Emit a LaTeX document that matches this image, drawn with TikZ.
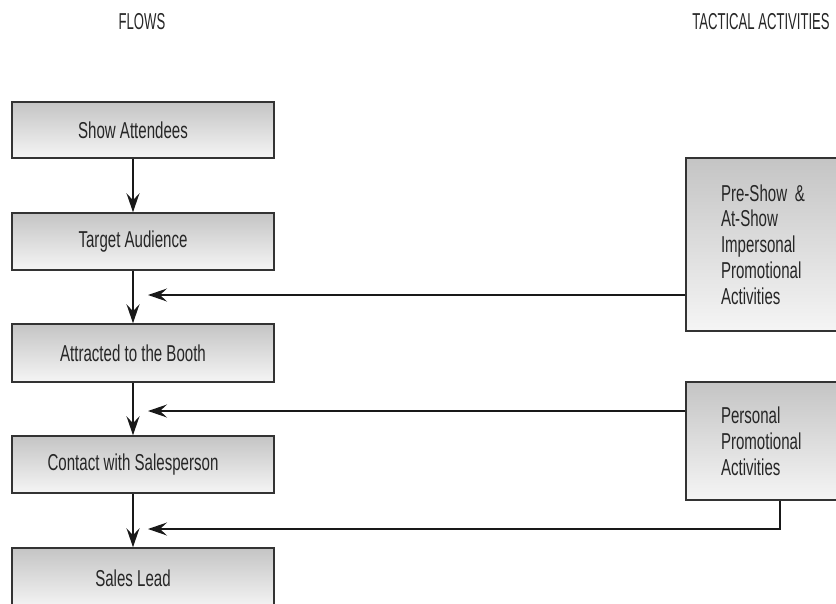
\documentclass[tikz,border=0pt]{standalone}
\usepackage{fontspec}
\setmainfont{Liberation Sans}[FakeStretch=0.655]
\newfontfamily\headfont{Liberation Sans}[FakeStretch=0.57]
\usetikzlibrary{arrows.meta}
\tikzset{
  flowbox/.style={draw=black!80, line width=1.5pt, top color=black!23, bottom color=black!4,
    minimum width=262pt, inner sep=0pt, text=black!85, font=\fontsize{23}{25.5}\selectfont},
  tacbox/.style={draw=black!80, line width=1.5pt, top color=black!23, bottom color=black!4,
    inner xsep=35pt, inner ysep=0pt, text width=90pt, align=left, text=black!85,
    font=\fontsize{23}{25.8}\selectfont},
  head/.style={text=black!85, font=\headfont\fontsize{23}{25}\selectfont},
  arr/.style={draw=black!90, line width=1.4pt, -{Stealth[length=19pt,width=13pt,inset=7pt]}},
  conn/.style={draw=black!90, line width=1.4pt}
}
\begin{document}
\begin{tikzpicture}[x=1pt,y=-1pt]
\useasboundingbox (0,0) rectangle (836,603);
\clip (0,0) rectangle (836,603);
\fill[white] (0,0) rectangle (836,603);

\node[head] (hflows) at (142,22) {FLOWS};
\node[head] (htac) at (761,22) {TACTICAL ACTIVITIES};

\node[flowbox, minimum height=56pt] (b1) at (143,130) {Show Attendees\hspace*{20pt}};
\node[flowbox, minimum height=57pt] (b2) at (143,241.5) {Target Audience\hspace*{20pt}};
\node[flowbox, minimum height=58pt] (b3) at (143,353) {Attracted to the Booth\hspace*{20pt}};
\node[flowbox, minimum height=57pt] (b4) at (143,464.5) {Contact with Salesperson\hspace*{20pt}};
\node[flowbox, minimum height=60pt] (b5) at (143,578) {Sales Lead\hspace*{20pt}};

\node[tacbox, minimum height=173pt] (pA) at (766,244.5) {Pre-Show \&\\At-Show\\Impersonal\\Promotional\\Activities};
\node[tacbox, minimum height=118pt] (pB) at (766,441) {Personal\\Promotional\\Activities};

\coordinate (ax) at (133,0);
\coordinate (hA) at (148,295);
\coordinate (hB) at (148,411);
\coordinate (hC) at (148,529);
\coordinate (cB) at (780,0);

\draw[arr] (b1.south -| ax) -- (b2.north -| ax);
\draw[arr] (b2.south -| ax) -- (b3.north -| ax);
\draw[arr] (b3.south -| ax) -- (b4.north -| ax);
\draw[arr] (b4.south -| ax) -- (b5.north -| ax);

\draw[arr] (pA.west |- hA) -- (hA);
\draw[arr] (pB.west |- hB) -- (hB);
\draw[arr] (pB.south -| cB) |- (hC);
\end{tikzpicture}
\end{document}
